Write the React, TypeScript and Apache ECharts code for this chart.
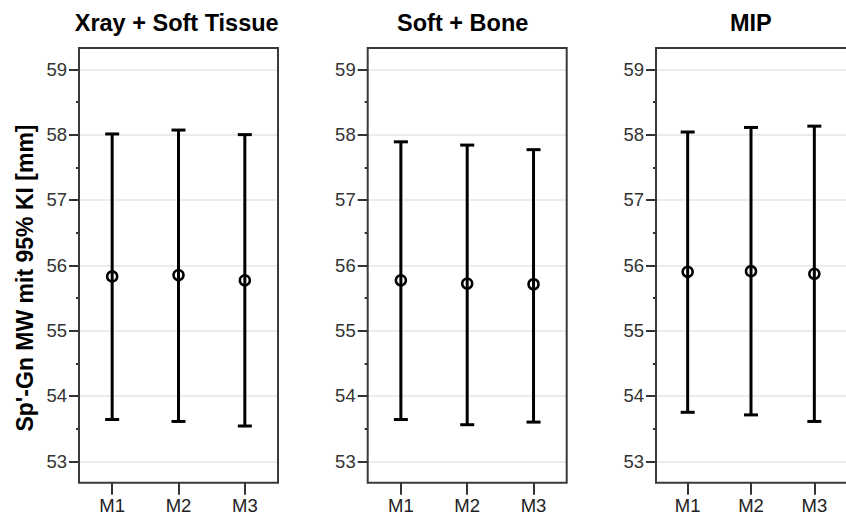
import React, { useEffect, useRef } from "react";
import * as echarts from "echarts";

const categories = ["M1", "M2", "M3"];
const panelTitles = ["Xray + Soft Tissue", "Soft + Bone", "MIP"];
const yTicks = [53, 54, 55, 56, 57, 58, 59];
const yAxisTitle = "Sp'-Gn MW mit 95% KI [mm]";

const means1 = [55.83, 55.85, 55.77];
const lower1 = [53.64, 53.61, 53.54];
const upper1 = [58.01, 58.07, 58.0];

const means2 = [55.77, 55.72, 55.71];
const lower2 = [53.64, 53.56, 53.6];
const upper2 = [57.89, 57.84, 57.77];

const means3 = [55.9, 55.91, 55.87];
const lower3 = [53.75, 53.71, 53.61];
const upper3 = [58.04, 58.11, 58.13];

const means = [means1, means2, means3];
const lowers = [lower1, lower2, lower3];
const uppers = [upper1, upper2, upper3];

const gridLefts = [79, 367.7, 656];
const gridWidths = [199, 199, 200];
const gridTop = 69.3;
const gridHeight = 392;
const frameTop = 48;
const frameBottom = 482.7;
const titleCenters = [176.7, 462.7, 750.8];

const sans = "'Liberation Sans', Arial, sans-serif";

export default function App() {
  const ref = useRef<HTMLDivElement>(null);
  useEffect(() => {
    if (!ref.current) return;
    const chart = echarts.init(ref.current, undefined, { renderer: "svg" });
    const yMin = yTicks[0];
    const yMax = yTicks[yTicks.length - 1];
    const grids: any[] = [];
    const xAxes: any[] = [];
    const yAxes: any[] = [];
    const series: any[] = [];
    const titles: any[] = [];
    const graphics: any[] = [];
    for (let p = 0; p < 3; p++) {
      grids.push({ left: gridLefts[p], width: gridWidths[p], top: gridTop, height: gridHeight });
      xAxes.push({
        type: "category",
        gridIndex: p,
        data: categories,
        boundaryGap: true,
        offset: frameBottom - (gridTop + gridHeight),
        axisLine: { show: false },
        axisTick: { show: true, alignWithLabel: true, length: 12, lineStyle: { color: "#333", width: 2 } },
        axisLabel: { margin: 13, color: "#222", fontFamily: sans, fontSize: 18.5 },
        splitLine: { show: false },
      });
      yAxes.push({
        type: "value",
        gridIndex: p,
        min: yMin,
        max: yMax,
        interval: 1,
        axisLine: { show: false },
        axisTick: { show: true, length: 10, lineStyle: { color: "#333", width: 2 } },
        minorTick: { show: true, splitNumber: 2, length: 3, lineStyle: { color: "#333", width: 2 } },
        axisLabel: { margin: 12, color: "#333", fontFamily: sans, fontSize: 18.5 },
        splitLine: { show: true, lineStyle: { color: "#e6e6e6", width: 1.5 } },
      });
      const lo = lowers[p];
      const hi = uppers[p];
      series.push({
        type: "custom",
        xAxisIndex: p,
        yAxisIndex: p,
        data: categories.map((_, i) => [i, lo[i], hi[i]]),
        encode: { x: 0, y: [1, 2] },
        renderItem: (params: any, api: any) => {
          const i = api.value(0);
          const a = api.coord([i, api.value(1)]);
          const b = api.coord([i, api.value(2)]);
          const hw = 7;
          const style = { stroke: "#000", lineWidth: 3, fill: "none" };
          return {
            type: "group",
            children: [
              { type: "line", shape: { x1: a[0], y1: a[1], x2: b[0], y2: b[1] }, style },
              { type: "line", shape: { x1: a[0] - hw, y1: a[1], x2: a[0] + hw, y2: a[1] }, style },
              { type: "line", shape: { x1: b[0] - hw, y1: b[1], x2: b[0] + hw, y2: b[1] }, style },
            ],
          };
        },
        z: 3,
      });
      series.push({
        type: "scatter",
        xAxisIndex: p,
        yAxisIndex: p,
        data: means[p].map((v, i) => [i, v]),
        symbol: "circle",
        symbolSize: 10,
        itemStyle: { color: "rgba(0,0,0,0)", borderColor: "#000", borderWidth: 2.5, opacity: 1 },
        z: 4,
      });
      titles.push({
        text: panelTitles[p],
        left: titleCenters[p],
        top: 11,
        padding: 0,
        textAlign: "center",
        textStyle: { fontFamily: sans, fontWeight: "bold", fontSize: 23.5, color: "#000" },
      });
      graphics.push({
        type: "rect",
        shape: { x: gridLefts[p], y: frameTop, width: gridWidths[p], height: frameBottom - frameTop },
        style: { fill: "none", stroke: "#3a3a3a", lineWidth: 2 },
        z: 5,
      });
    }
    graphics.push({
      type: "text",
      x: 25,
      y: 278,
      rotation: Math.PI / 2,
      style: {
        text: yAxisTitle,
        font: `bold 23px ${sans}`,
        fill: "#000",
        textAlign: "center",
        textVerticalAlign: "middle",
      },
    });
    chart.setOption({
      animation: false,
      backgroundColor: "#fff",
      title: titles,
      grid: grids,
      xAxis: xAxes,
      yAxis: yAxes,
      series,
      graphic: graphics,
    });
    return () => chart.dispose();
  }, []);
  return <div ref={ref} style={{ position: "fixed", left: 0, top: 0, width: 846, height: 515 }} />;
}
